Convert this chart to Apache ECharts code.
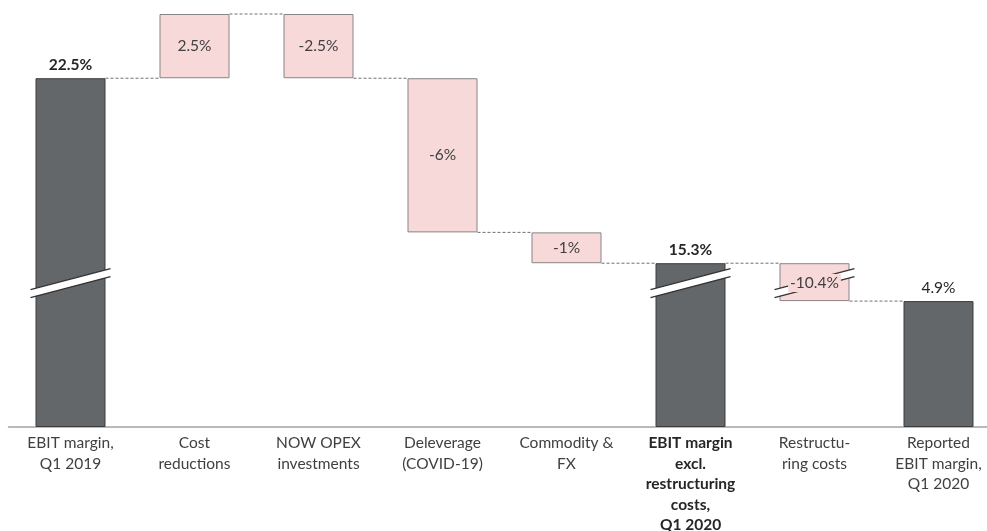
<!DOCTYPE html>
<html>
<head>
<meta charset="utf-8">
<title>EBIT margin bridge</title>
<script src="https://cdn.jsdelivr.net/npm/echarts@6.0.0/dist/echarts.min.js"></script>
<style>
html, body { margin: 0; padding: 0; background: #fff; }
#main { width: 987px; height: 531px; }
</style>
</head>
<body>
<div id="main"></div>
<script>
// categories (line breaks as in the original slide)
var categories = [
	'EBIT margin,\nQ1 2019',
	'Cost\nreductions',
	'NOW OPEX\ninvestments',
	'Deleverage\n(COVID-19)',
	'Commodity &\nFX',
	'EBIT margin\nexcl.\nrestructuring\ncosts,\nQ1 2020',
	'Restructu-\nring costs',
	'Reported\nEBIT margin,\nQ1 2020'
];
var barKinds = ['start', 'delta', 'delta', 'delta', 'delta', 'subtotal', 'delta', 'end'];
// bottom and top of each bar, in % margin
var barLow = [0, 22.5, 22.5, 16.5, 15.3, 0, 4.9, 0];
var barHigh = [22.5, 25, 25, 22.5, 16.5, 15.3, 15.3, 4.9];
var valueLabels = ['22.5%', '2.5%', '-2.5%', '-6%', '-1%', '15.3%', '-10.4%', '4.9%'];
// dashed connector level leaving bar i towards bar i+1
var connectorLevels = [22.5, 25, 22.5, 16.5, 15.3, 15.3, 4.9];
// bars drawn with a break mark, and the hidden value range
var brokenBars = [0, 5, 6];
var breakStart = 5.4;
var breakEnd = 14.725;
var breakGap = 0.4;

var FONT = 'Lato, "Open Sans", sans-serif';
var BAR_W = 70;
var TOTAL_FILL = '#646769', TOTAL_BORDER = '#3c3c3c';
var DELTA_FILL = '#f8d9d9', DELTA_BORDER = '#8a8383';

var chart = echarts.init(document.getElementById('main'));

var baseData = [];
var barData = [];
for (var i = 0; i < categories.length; i++) {
	var isTotal = barKinds[i] != 'delta';
	baseData.push(barLow[i]);
	barData.push({
		value: barHigh[i] - barLow[i],
		itemStyle: {
			color: isTotal ? TOTAL_FILL : DELTA_FILL,
			borderColor: isTotal ? TOTAL_BORDER : DELTA_BORDER,
			borderWidth: 1
		},
		label: {
			// the broken delta bar gets its label from the break series
			show: brokenBars.indexOf(i) == -1 || isTotal,
			position: isTotal ? 'top' : 'inside',
			distance: 5,
			fontWeight: (barKinds[i] == 'start' || barKinds[i] == 'subtotal') ? 'bold' : 'normal',
			color: isTotal ? '#262626' : '#404040'
		}
	});
}

var connectorData = [];
for (var j = 0; j < connectorLevels.length; j++) {
	connectorData.push([j, connectorLevels[j]]);
}
var breakData = [];
for (var k = 0; k < brokenBars.length; k++) {
	breakData.push([brokenBars[k], breakStart, breakEnd]);
}

var option = {
	animation: false,
	backgroundColor: '#fff',
	// plot runs a little past the right edge, like the slide
	grid: { left: 8.5, width: 992, top: 14, bottom: 104, containLabel: false, outerBoundsMode: 'none' },
	xAxis: {
		type: 'category',
		data: categories,
		axisTick: { show: false },
		axisLine: { lineStyle: { color: '#a3a3a3', width: 1.5 } },
		axisLabel: {
			interval: 0,
			margin: 6,
			fontFamily: FONT,
			fontSize: 15.5,
			lineHeight: 20.5,
			color: '#404040',
			formatter: function (value, idx) {
				if (barKinds[idx] != 'subtotal') return value;
				return value.split('\n').map(function (s) { return '{b|' + s + '}'; }).join('\n');
			},
			rich: {
				b: { fontFamily: FONT, fontSize: 15.5, lineHeight: 20.5, fontWeight: 'bold', color: '#262626' }
			}
		}
	},
	yAxis: {
		type: 'value',
		show: false,
		min: 0,
		max: 25,
		splitLine: { show: false },
		breaks: [{ start: breakStart, end: breakEnd, gap: breakGap }],
		breakArea: { show: false }
	},
	series: [
		{
			type: 'bar',
			stack: 'bridge',
			silent: true,
			barWidth: BAR_W,
			itemStyle: { color: 'transparent' },
			data: baseData,
			z: 2
		},
		{
			type: 'bar',
			stack: 'bridge',
			barWidth: BAR_W,
			label: {
				show: true,
				fontFamily: FONT,
				fontSize: 15.5,
				formatter: function (p) { return valueLabels[p.dataIndex]; }
			},
			data: barData,
			z: 2
		},
		{
			// dashed connectors between neighbouring bars
			type: 'custom',
			silent: true,
			z: 1,
			data: connectorData,
			renderItem: function (params, api) {
				var idx = api.value(0);
				var p0 = api.coord([idx, api.value(1)]);
				var p1 = api.coord([idx + 1, api.value(1)]);
				return {
					type: 'line',
					shape: { x1: p0[0] + BAR_W / 2, y1: p0[1], x2: p1[0] - BAR_W / 2, y2: p1[1] },
					style: { stroke: '#6f6f6f', lineWidth: 1, lineDash: [3, 2] }
				};
			}
		},
		{
			// slanted double break marks
			type: 'custom',
			silent: true,
			z: 5,
			data: breakData,
			renderItem: function (params, api) {
				var idx = api.value(0);
				var x = api.coord([idx, 0])[0];
				var yc = (api.coord([idx, api.value(1)])[1] + api.coord([idx, api.value(2)])[1]) / 2;
				var half = 40, rise = 10.5, thick = 4;
				var children = [
					{
						type: 'polygon',
						shape: { points: [[x - half, yc + rise - thick], [x + half, yc - rise - thick], [x + half, yc - rise + thick], [x - half, yc + rise + thick]] },
						style: { fill: '#fff' }
					},
					{
						type: 'line',
						shape: { x1: x - half, y1: yc + rise - thick, x2: x + half, y2: yc - rise - thick },
						style: { stroke: '#333', lineWidth: 1.5 }
					},
					{
						type: 'line',
						shape: { x1: x - half, y1: yc + rise + thick, x2: x + half, y2: yc - rise + thick },
						style: { stroke: '#333', lineWidth: 1.5 }
					}
				];
				if (barKinds[idx] == 'delta') {
					children.push({
						type: 'text',
						style: {
							text: valueLabels[idx],
							x: x,
							y: yc,
							align: 'center',
							verticalAlign: 'middle',
							font: 'normal 15.5px ' + FONT,
							fill: '#404040',
							backgroundColor: DELTA_FILL,
							padding: [1, 2]
						}
					});
				}
				return { type: 'group', children: children };
			}
		}
	]
};

chart.setOption(option);
</script>
</body>
</html>
